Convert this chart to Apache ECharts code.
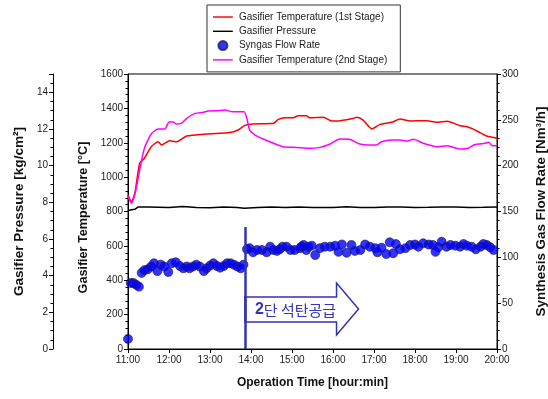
<!DOCTYPE html>
<html>
<head>
<meta charset="utf-8">
<script src="https://cdn.jsdelivr.net/npm/echarts@6/dist/echarts.min.js"></script>
<style>
  html, body { margin: 0; padding: 0; background: #fff; }
  #chart { width: 548px; height: 399px; }
</style>
</head>
<body>
<div id="chart"></div>
<script>
// 1st stage gasifier temperature [°C]
const temp1Times = ['11:00', '11:05', '11:10', '11:17', '11:24', '11:34', '11:44', '11:49', '12:01', '12:11',
  '12:26', '12:55', '13:29', '13:41', '13:51', '14:03', '14:33', '14:40', '14:50', '15:02',
  '15:09', '15:21', '15:26', '15:46', '15:58', '16:08', '16:30', '16:35', '16:44', '16:57',
  '17:09', '17:26', '17:38', '17:53', '18:17', '18:32', '18:47', '19:06', '19:16', '19:26',
  '19:35', '19:45', '19:57', '20:00']
const temp1 = [896, 857, 906, 1080, 1110, 1177, 1206, 1187, 1212, 1206,
  1239, 1251, 1259, 1274, 1301, 1309, 1313, 1336, 1346, 1346,
  1357, 1357, 1345, 1348, 1327, 1327, 1342, 1348, 1332, 1280,
  1307, 1319, 1338, 1327, 1328, 1319, 1325, 1299, 1293, 1278,
  1259, 1239, 1229, 1225]

// 2nd stage gasifier temperature [°C]
const temp2Times = ['11:00', '11:05', '11:11', '11:17', '11:24', '11:34', '11:44', '11:54', '12:00', '12:06',
  '12:11', '12:18', '12:26', '12:38', '12:50', '12:57', '13:10', '13:22', '13:32', '13:46',
  '13:50', '13:54', '13:58', '14:06', '14:18', '14:33', '14:47', '15:07', '15:26', '15:41',
  '15:56', '16:10', '16:24', '16:39', '16:52', '17:04', '17:11', '17:26', '17:38', '17:48',
  '17:58', '18:12', '18:32', '18:47', '18:56', '19:06', '19:18', '19:26', '19:33', '19:43',
  '19:48', '19:53', '20:00']
const temp2 = [886, 848, 915, 1041, 1168, 1251, 1280, 1280, 1321, 1321,
  1309, 1313, 1342, 1371, 1377, 1385, 1386, 1390, 1381, 1381,
  1381, 1342, 1274, 1245, 1222, 1197, 1177, 1173, 1168, 1173,
  1193, 1222, 1220, 1193, 1187, 1187, 1206, 1216, 1216, 1210,
  1220, 1197, 1177, 1183, 1173, 1164, 1168, 1187, 1193, 1197,
  1203, 1183, 1183]

// gasifier pressure [kg/cm2]
const pressTimes = ['11:00', '11:05', '11:10', '11:15', '11:30', '12:00', '12:20', '12:40', '13:00', '13:20',
  '13:40', '13:50', '14:10', '14:30', '14:50', '15:10', '15:30', '16:00', '16:20', '16:40',
  '17:00', '17:20', '17:40', '18:00', '18:20', '18:40', '19:00', '19:20', '19:40', '20:00']
const pressure = [7.55, 7.6, 7.62, 7.75, 7.75, 7.72, 7.77, 7.72, 7.7, 7.74,
  7.72, 7.68, 7.72, 7.74, 7.72, 7.74, 7.72, 7.72, 7.76, 7.72,
  7.72, 7.74, 7.75, 7.72, 7.73, 7.75, 7.75, 7.72, 7.73, 7.75]

// syngas flow rate [Nm3/h]
const flowTimes = ['11:00', '11:04', '11:08', '11:12', '11:16', '11:20', '11:24', '11:29', '11:34', '11:38',
  '11:43', '11:48', '11:53', '11:59', '12:04', '12:10', '12:16', '12:21', '12:26', '12:30',
  '12:35', '12:40', '12:45', '12:51', '12:55', '13:00', '13:05', '13:10', '13:15', '13:20',
  '13:25', '13:30', '13:35', '13:40', '13:45', '13:49', '13:54', '13:58', '14:03', '14:09',
  '14:16', '14:23', '14:28', '14:33', '14:38', '14:42', '14:46', '14:52', '14:58', '15:04',
  '15:12', '15:14', '15:17', '15:21', '15:24', '15:29', '15:34', '15:41', '15:48', '15:56',
  '16:03', '16:08', '16:13', '16:20', '16:27', '16:32', '16:40', '16:47', '16:54', '17:02',
  '17:05', '17:11', '17:18', '17:23', '17:28', '17:32', '17:38', '17:46', '17:53', '18:00',
  '18:05', '18:12', '18:20', '18:26', '18:30', '18:34', '18:39', '18:46', '18:52', '18:59',
  '19:06', '19:11', '19:16', '19:23', '19:29', '19:36', '19:40', '19:45', '19:50', '19:55']
const flow = [11, 72, 72, 70, 68, 83, 86, 87, 90, 93.5,
  85, 92, 90, 84, 93.5, 94.6, 90.5, 88, 90, 88,
  90, 92, 90, 85, 88, 91, 93.5, 90.5, 88.7, 90.5,
  93.5, 93.5, 92, 90, 88, 92, 109, 110, 105.5, 108,
  108, 105.5, 111.6, 108, 107, 108.8, 111.6, 111.6, 108, 108,
  110, 112, 113.5, 108, 111.6, 112.7, 102.5, 110, 111.6, 111.6,
  112.7, 106, 114, 105, 113.5, 107, 108, 114, 111.6, 110,
  105.5, 110.5, 103.6, 116.4, 104.4, 114.5, 108.8, 110, 113.5, 114,
  111.6, 115.3, 114, 113.5, 106, 111, 117, 111.6, 113.5, 112.7,
  111.6, 114.5, 112.7, 111.6, 108.8, 111.6, 114.5, 113.5, 111, 108]

// 2nd stage coal feed start
const feedTime = '13:52'
const feedMarkTop = 133

const hourTicks = ['11:00', '12:00', '13:00', '14:00', '15:00', '16:00', '17:00', '18:00', '19:00', '20:00']

const toMin = t => {
  const [h, m] = t.split(':')
  return +h * 60 + +m
}
const pair = (ts, vs) => ts.map((t, i) => [toMin(t), vs[i]])

const font = "'Liberation Sans', Arial, sans-serif"
const nameStyle = size => ({ fontFamily: font, fontSize: size, fontWeight: 'bold', color: '#111' })
const labelStyle = { fontFamily: font, fontSize: 10, color: '#222', formatter: v => String(v) }
const axisLine = { show: true, lineStyle: { color: '#000', width: 1 } }
const axisTick = { show: true, length: 4, lineStyle: { color: '#000' } }
const minorTick = { show: true, length: 2.5, lineStyle: { color: '#000' } }
// plain line legend glyph (M points keep the box 22x10 so the bar stays thin)
const lineIcon = 'path://M0,0 M0,4.2 L22,4.2 L22,5.8 L0,5.8 Z M22,10'

const chart = echarts.init(document.getElementById('chart'))

chart.setOption({
  animation: false,
  backgroundColor: '#fff',
  textStyle: { fontFamily: font },
  grid: {
    left: 128, right: 51, top: 74, bottom: 50, outerBoundsMode: 'none',
    show: true, borderColor: '#000', borderWidth: 1, backgroundColor: 'transparent'
  },
  legend: {
    orient: 'vertical',
    left: 207,
    top: 5,
    padding: [6, 13, 6, 6],
    itemWidth: 22,
    itemHeight: 9,
    itemGap: 2.3,
    itemTextGap: 8,
    borderColor: '#333',
    borderWidth: 1,
    backgroundColor: '#fff',
    textStyle: { fontFamily: font, fontSize: 10, color: '#222', lineHeight: 12 },
    data: [
      { name: 'Gasifier Temperature (1st Stage)', icon: lineIcon },
      { name: 'Gasifier Pressure', icon: lineIcon },
      { name: 'Syngas Flow Rate', icon: 'circle' },
      { name: 'Gasifier Temperature (2nd Stage)', icon: lineIcon }
    ]
  },
  xAxis: {
    type: 'value',
    min: toMin(hourTicks[0]),
    max: toMin(hourTicks[hourTicks.length - 1]),
    interval: 60,
    name: 'Operation Time [hour:min]',
    nameLocation: 'middle',
    nameGap: 28,
    nameTextStyle: nameStyle(12),
    axisLine: axisLine,
    axisTick: axisTick,
    splitLine: { show: false },
    axisLabel: Object.assign({}, labelStyle, { margin: 6, formatter: v => hourTicks[(v - toMin(hourTicks[0])) / 60] })
  },
  yAxis: [
    {
      type: 'value', position: 'left', min: 0, max: 1600, interval: 200,
      name: 'Gasifier Temperature [°C]', nameLocation: 'middle', nameRotate: 90, nameGap: 36,
      nameTextStyle: Object.assign(nameStyle(12.6), { padding: [0, 12, 0, 0] }),
      axisLine: axisLine, axisTick: axisTick,
      minorTick: Object.assign({ splitNumber: 5 }, minorTick),
      splitLine: { show: false },
      axisLabel: Object.assign({ margin: 5 }, labelStyle)
    },
    {
      type: 'value', position: 'left', offset: 75, min: 0, max: 15, interval: 2,
      name: 'Gasifier Pressure [kg/cm²]', nameLocation: 'middle', nameRotate: 90, nameGap: 21,
      nameTextStyle: nameStyle(13.6),
      axisLine: axisLine, axisTick: axisTick,
      minorTick: Object.assign({ splitNumber: 4 }, minorTick),
      splitLine: { show: false },
      axisLabel: Object.assign({ margin: 5, showMaxLabel: false }, labelStyle)
    },
    {
      type: 'value', position: 'right', min: 0, max: 300, interval: 50,
      name: 'Synthesis Gas Flow Rate [Nm³/h]', nameLocation: 'middle', nameRotate: 90, nameGap: 38,
      nameTextStyle: nameStyle(13.4),
      axisLine: axisLine, axisTick: axisTick,
      minorTick: Object.assign({ splitNumber: 5 }, minorTick),
      splitLine: { show: false },
      axisLabel: Object.assign({ margin: 5 }, labelStyle)
    }
  ],
  series: [
    {
      name: 'Gasifier Temperature (1st Stage)', type: 'line', yAxisIndex: 0,
      data: pair(temp1Times, temp1), symbol: 'none', smooth: 0.2,
      color: '#ff0000', lineStyle: { color: '#ff0000', width: 1.5 }, z: 3
    },
    {
      name: 'Gasifier Pressure', type: 'line', yAxisIndex: 1,
      data: pair(pressTimes, pressure), symbol: 'none',
      color: '#000', lineStyle: { color: '#000', width: 1.5 }, z: 3
    },
    {
      name: 'Syngas Flow Rate', type: 'scatter', yAxisIndex: 2,
      data: pair(flowTimes, flow), symbol: 'circle', symbolSize: 9,
      itemStyle: { color: '#0000ff', borderColor: '#1a1a50', borderWidth: 0.8 }, z: 4,
      markLine: {
        silent: true, symbol: 'none', label: { show: false },
        lineStyle: { color: '#3333b0', width: 2.5, type: 'solid' },
        data: [[{ coord: [toMin(feedTime), 0] }, { coord: [toMin(feedTime), feedMarkTop] }]]
      }
    },
    {
      name: 'Gasifier Temperature (2nd Stage)', type: 'line', yAxisIndex: 0,
      data: pair(temp2Times, temp2), symbol: 'none', smooth: 0.2,
      color: '#ff00ff', lineStyle: { color: '#ff00ff', width: 1.5 }, z: 3
    }
  ]
})

// block arrow annotation starting at the feed line
const [ax] = chart.convertToPixel({ xAxisIndex: 0, yAxisIndex: 2 }, [toMin(feedTime), 0])
const ay = 309
chart.setOption({
  graphic: [
    {
      type: 'polygon', z: 10,
      shape: { points: [[ax, ay - 12], [ax + 91, ay - 12], [ax + 91, ay - 26], [ax + 113, ay], [ax + 91, ay + 26], [ax + 91, ay + 13], [ax, ay + 13]] },
      style: { fill: '#fff', stroke: '#3333b0', lineWidth: 1.5 }
    },
    {
      type: 'line', z: 11,
      shape: { x1: ax, y1: ay - 13, x2: ax, y2: ay + 14 },
      style: { stroke: '#3333b0', lineWidth: 2.5 }
    },
    {
      type: 'text', z: 12, x: ax + 50, y: ay + 1,
      style: {
        text: '{b|2}단 석탄공급',
        align: 'center', verticalAlign: 'middle',
        fontFamily: "'Noto Sans CJK KR', sans-serif", fontSize: 15, fill: '#3535b5',
        rich: { b: { fontFamily: font, fontWeight: 'bold', fontSize: 16, fill: '#3535b5' } }
      }
    }
  ]
})
</script>
</body>
</html>
